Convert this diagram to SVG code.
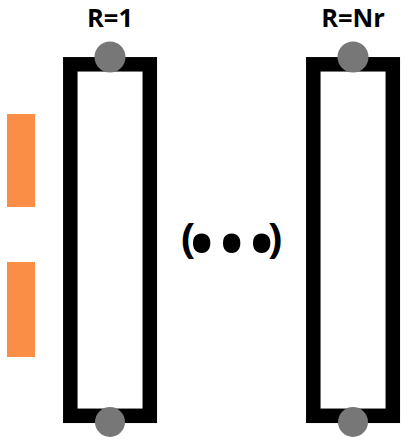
<svg xmlns="http://www.w3.org/2000/svg" width="409" height="446" viewBox="0 0 409 446">
<style>
.col{fill:none;stroke:#000;stroke-width:14.5}
.port{fill:#777777}
.lab{font-family:"Open Sans","Liberation Sans",sans-serif;font-weight:bold;font-size:25.5px;text-anchor:middle;fill:#000}
.blk{fill:#FA8E46}
.el{font-family:"Open Sans","Liberation Sans",sans-serif;font-weight:bold;fill:#000}
</style>
<rect width="409" height="446" fill="#fff"/>
<g id="connectors"></g>
<g id="col1">
<rect class="col" x="70.3" y="64.3" width="79.5" height="351.5"/>
<circle class="port" cx="110" cy="57" r="15.5"/>
<circle class="port" cx="110" cy="422" r="15"/>
<text class="lab" x="110" y="27">R=1</text>
</g>
<g id="colNr">
<rect class="col" x="313.3" y="64.3" width="79.5" height="351.5"/>
<circle class="port" cx="353" cy="57" r="15.5"/>
<circle class="port" cx="353" cy="422" r="15"/>
<text class="lab" x="353" y="27">R=Nr</text>
</g>
<g id="blocks">
<rect class="blk" x="7" y="114" width="28" height="93"/>
<rect class="blk" x="7" y="262" width="28" height="95"/>
</g>
<g id="ellipsis">
<text class="el" font-size="42" y="253"><tspan x="181">(</tspan><tspan font-size="62" x="190 220 250" y="266">•••</tspan><tspan x="268" y="253">)</tspan></text>
</g>
</svg>
